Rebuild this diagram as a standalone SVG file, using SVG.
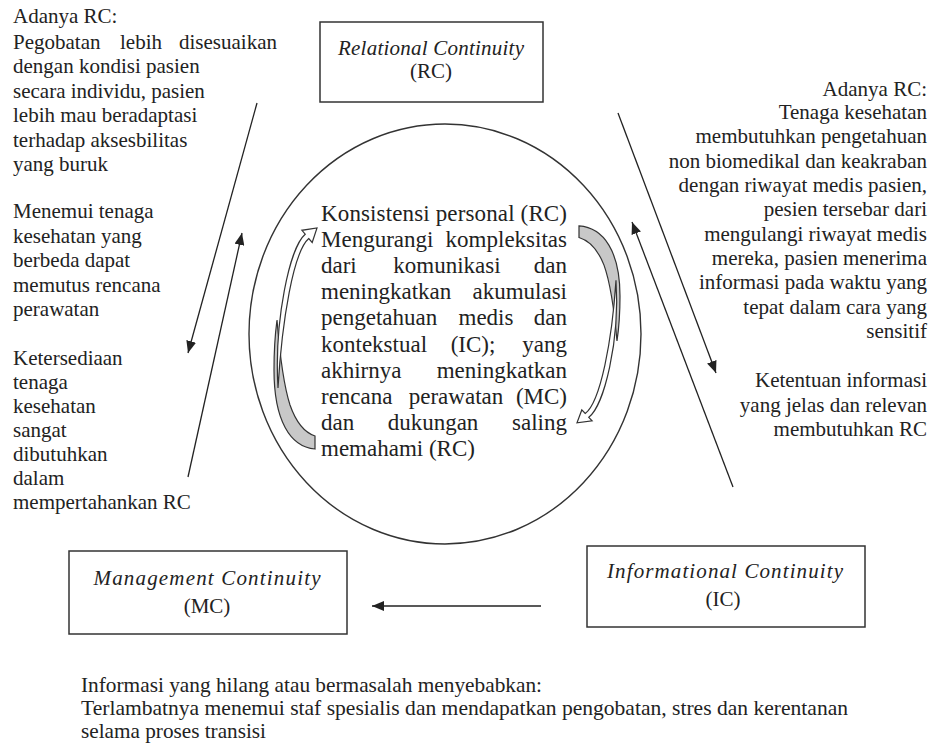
<svg xmlns="http://www.w3.org/2000/svg" width="933" height="743" viewBox="0 0 933 743">
<style>
  .t { font-family: "Liberation Serif", "Times New Roman", serif; font-size: 21px; fill: #222; }
  .c { font-family: "Liberation Serif", "Times New Roman", serif; font-size: 23px; fill: #222; }
  .lbl { font-family: "Liberation Serif", "Times New Roman", serif; font-size: 21px; fill: #222; }
  .it { font-style: italic; }
  .box { fill: #fff; stroke: #333; stroke-width: 1.5; }
  .ln { stroke: #222; stroke-width: 1.3; fill: none; marker-end: url(#ah); }
  .back { fill: #c8c8c8; stroke: #333; stroke-width: 1.2; }
  .front { fill: #fff; stroke: #333; stroke-width: 1.2; }
</style>
<defs>
  <marker id="ah" viewBox="0 0 12 10" refX="12" refY="5" markerWidth="12" markerHeight="10" markerUnits="userSpaceOnUse" orient="auto">
    <path d="M0,0 L12,5 L0,10 z" fill="#222"/>
  </marker>
  <g id="curvedArrow">
    <path class="back" vector-effect="non-scaling-stroke" d="M315,436 L315,449 C290,447 274,420 274,370 C274,350 275,335 277,320 C279,345 282,380 290,405 C297,425 306,433 315,436 Z"/>
    <path class="front" vector-effect="non-scaling-stroke" d="M278,388 C274,320 289.9,247.1 305.2,234.2 L301.9,230.3 L317,228 L312.2,242.5 L308.8,238.5 C293.5,251.4 282,320 278,388 Z"/>
  </g>
</defs>
<rect width="933" height="743" fill="#fff"/>

<g id="connectors">
  <line class="ln" x1="257" y1="103" x2="188" y2="353"/>
  <line class="ln" x1="188" y1="477" x2="242" y2="233"/>
  <line class="ln" x1="618" y1="113" x2="716" y2="373"/>
  <line class="ln" x1="733" y1="487" x2="632" y2="222"/>
  <line class="ln" x1="541" y1="606" x2="372" y2="606"/>
</g>

<g id="rc-box">
  <rect class="box" x="320" y="22" width="223" height="80"/>
  <text class="lbl it" x="431" y="55" text-anchor="middle" textLength="186">Relational Continuity</text>
  <text class="lbl" x="431" y="78" text-anchor="middle">(RC)</text>
</g>

<g id="mc-box">
  <rect class="box" x="69" y="551" width="278" height="83"/>
  <text class="lbl it" x="207" y="585" text-anchor="middle" font-size="22" textLength="227">Management Continuity</text>
  <text class="lbl" x="207" y="613" text-anchor="middle" font-size="22">(MC)</text>
</g>

<g id="ic-box">
  <rect class="box" x="587" y="546" width="278" height="81"/>
  <text class="lbl it" x="725" y="578" text-anchor="middle" font-size="22" textLength="236">Informational Continuity</text>
  <text class="lbl" x="723" y="606" text-anchor="middle" font-size="22">(IC)</text>
</g>

<g id="center-cycle">
  <ellipse cx="445" cy="334" rx="196" ry="210" fill="none" stroke="#333" stroke-width="1.4"/>
  <use href="#curvedArrow"/>
  <use href="#curvedArrow" transform="matrix(-1,0,0,-0.891,894,626)"/>
  <g class="c">
    <text x="321" y="220.5" textLength="246">Konsistensi personal (RC)</text>
    <text x="321" y="246.7">Mengurangi</text><text x="567" y="246.7" text-anchor="end">kompleksitas</text>
    <text x="321" y="272.9">dari</text><text x="447" y="272.9" text-anchor="middle">komunikasi</text><text x="567" y="272.9" text-anchor="end">dan</text>
    <text x="321" y="299.1">meningkatkan</text><text x="567" y="299.1" text-anchor="end">akumulasi</text>
    <text x="321" y="325.3">pengetahuan</text><text x="486" y="325.3" text-anchor="middle">medis</text><text x="567" y="325.3" text-anchor="end">dan</text>
    <text x="321" y="351.5">kontekstual</text><text x="473" y="351.5" text-anchor="middle">(IC);</text><text x="567" y="351.5" text-anchor="end">yang</text>
    <text x="321" y="377.7">akhirnya</text><text x="567" y="377.7" text-anchor="end">meningkatkan</text>
    <text x="321" y="403.9">rencana</text><text x="456" y="403.9" text-anchor="middle">perawatan</text><text x="567" y="403.9" text-anchor="end">(MC)</text>
    <text x="321" y="430.1">dan</text><text x="433" y="430.1" text-anchor="middle">dukungan</text><text x="567" y="430.1" text-anchor="end">saling</text>
    <text x="321" y="456.3">memahami (RC)</text>
  </g>
</g>

<g id="note-left-top" class="t">
  <text x="13" y="23">Adanya RC:</text>
  <text x="13" y="48.5">Pegobatan</text><text x="141" y="48.5" text-anchor="middle">lebih</text><text x="277" y="48.5" text-anchor="end">disesuaikan</text>
  <text x="13" y="73">dengan kondisi pasien</text>
  <text x="13" y="97.5">secara individu, pasien</text>
  <text x="13" y="122">lebih mau beradaptasi</text>
  <text x="13" y="146.5">terhadap aksesbilitas</text>
  <text x="13" y="171">yang buruk</text>
</g>

<g id="note-left-mid" class="t">
  <text x="13" y="218">Menemui tenaga</text>
  <text x="13" y="242.5">kesehatan yang</text>
  <text x="13" y="267">berbeda dapat</text>
  <text x="13" y="291.5">memutus rencana</text>
  <text x="13" y="316">perawatan</text>
</g>

<g id="note-left-bottom" class="t">
  <text x="13" y="365">Ketersediaan</text>
  <text x="13" y="389">tenaga</text>
  <text x="13" y="413">kesehatan</text>
  <text x="13" y="437">sangat</text>
  <text x="13" y="461">dibutuhkan</text>
  <text x="13" y="485">dalam</text>
  <text x="13" y="509">mempertahankan RC</text>
</g>

<g id="note-right-top" class="t" text-anchor="end">
  <text x="927" y="96">Adanya RC:</text>
  <text x="927" y="118.5">Tenaga kesehatan</text>
  <text x="927" y="143">membutuhkan pengetahuan</text>
  <text x="927" y="167.5">non biomedikal dan keakraban</text>
  <text x="927" y="191.5">dengan riwayat medis pasien,</text>
  <text x="927" y="216">pesien tersebar dari</text>
  <text x="927" y="240.5">mengulangi riwayat medis</text>
  <text x="927" y="265">mereka, pasien menerima</text>
  <text x="927" y="289">informasi pada waktu yang</text>
  <text x="927" y="313.5">tepat dalam cara yang</text>
  <text x="927" y="338">sensitif</text>
</g>

<g id="note-right-bottom" class="t" text-anchor="end">
  <text x="927" y="387">Ketentuan informasi</text>
  <text x="927" y="411.5">yang jelas dan relevan</text>
  <text x="927" y="436">membutuhkan RC</text>
</g>

<g id="note-bottom" class="t" font-size="19">
  <text x="81" y="692" textLength="461" lengthAdjust="spacingAndGlyphs">Informasi yang hilang atau bermasalah menyebabkan:</text>
  <text x="81" y="715" textLength="767" lengthAdjust="spacingAndGlyphs">Terlambatnya menemui staf spesialis dan mendapatkan pengobatan, stres dan kerentanan</text>
  <text x="81" y="738" textLength="185" lengthAdjust="spacingAndGlyphs">selama proses transisi</text>
</g>
</svg>
